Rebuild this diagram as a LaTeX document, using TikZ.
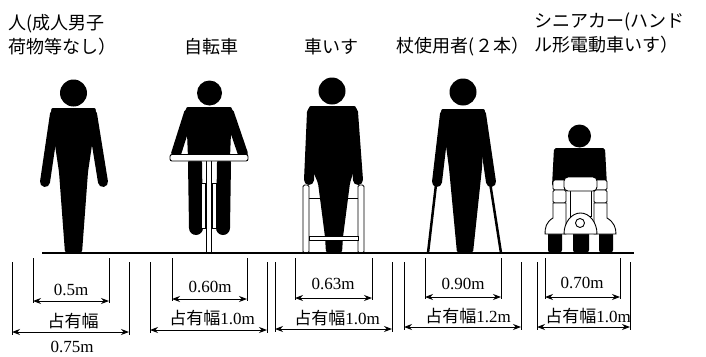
\documentclass[tikz,border=0pt]{standalone}
\usepackage{fontspec}
\setmainfont{Liberation Serif}
\newfontfamily\jpfont{Noto Sans CJK JP}
\usetikzlibrary{arrows.meta}

\begin{document}
\begin{tikzpicture}[
  x=1pt, y=-1pt,
  >={Stealth[length=8pt, width=6pt]},
  ground/.style={line width=2.2pt},
  body/.style={fill=black},
  limb/.style={line width=10pt, line cap=round},
  part/.style={draw=black, fill=white, line width=0.9pt},
  ext/.style={line width=1pt},
  dim/.style={<->, line width=1pt},
  label/.style={font=\jpfont\fontsize{18}{24}\selectfont, inner sep=0pt},
  size/.style={font=\fontsize{17}{20}\selectfont, inner sep=0pt},
  occ/.style={font=\fontsize{17}{20}\selectfont, inner sep=0pt}
]
\useasboundingbox (0,0) rectangle (706,356);

% --- Captions ---
\node[label, anchor=west, align=left] (walk-txt) at (8,35) {人(成人男子\\荷物等なし）};
\node[label] (bike-txt)  at (211,47) {自転車};
\node[label] (chair-txt) at (331,47) {車いす};
\node[label] (cane-txt)  at (463,47) {杖使用者(２本）};
\node[label, anchor=west, align=left] (car-txt) at (534,33) {シニアカー(ハンド\\ル形電動車いす）};

% --- Ground ---
\coordinate (g-l) at (42,253);
\coordinate (g-r) at (634,253);

% --- Pedestrian ---
\fill[body] (73.5,93) circle[radius=13.5];
\fill[body, rounded corners=2]
  (51,108) -- (96,108) -- (92,145) -- (88,172)
  -- (82,253) -- (65,253) -- (59,172) -- (55,145) -- cycle;
\draw[limb] (55,114) -- (45,182);
\draw[limb] (92,114) -- (103,182);

% --- Cyclist ---
\fill[body] (209.5,93) circle[radius=12.5];
\fill[body, rounded corners=2] (186,107) -- (232,107) -- (230,158) -- (188,158) -- cycle;
\draw[limb] (189,113) -- (176,154);
\draw[limb] (229,113) -- (243,154);
\draw[line width=14pt, line cap=round] (195,163) -- (196,228);
\draw[line width=14pt, line cap=round] (224,163) -- (223,228);
\draw[part] (206.5,160) rectangle (211.5,253);   % wheel
\draw[part] (201.5,183) rectangle (205.5,228);   % fork
\draw[part] (212.5,183) rectangle (216.5,228);
\draw[part, rounded corners=2] (170,154.5) rectangle (248,161); % handlebar

% --- Walker user ---
\draw[line width=1pt] (309,198) -- (358,198);
\fill[body] (332,91) circle[radius=13.5];
\fill[body, rounded corners=2]
  (309,106) -- (356,106) -- (357,160) -- (350,183) -- (343,237)
  -- (342,253) -- (326,253) -- (325,237) -- (318,183) -- (308,160) -- cycle;
\draw[limb] (312,112) -- (309,180);
\draw[limb] (353,112) -- (358,180);
\draw[part, rounded corners=1.5] (303,185) rectangle (309,253);
\draw[part, rounded corners=1.5] (358,185) rectangle (364,253);
\draw[part] (309,236) rectangle (358,240);

% --- Crutch user ---
\fill[body] (463,92) circle[radius=13.5];
\fill[body, rounded corners=2]
  (441,109) -- (485,109) -- (482,168) -- (473,253) -- (457,253) -- (449,168) -- cycle;
\draw[limb] (445,114) -- (437,182);
\draw[limb] (481,114) -- (491,182);
\draw[line width=2.5pt] (437,176) -- (428,253);
\draw[line width=2.5pt] (489,176) -- (501,253);

% --- Mobility scooter ---
\fill[body] (579.5,136) circle[radius=11.5];
\fill[body, rounded corners=2] (554,148) -- (605,148) -- (607,186) -- (552,186) -- cycle;
\fill[body, rounded corners=3] (548,230) rectangle (562,253);
\fill[body, rounded corners=3] (573,230) rectangle (589,253);
\fill[body, rounded corners=3] (599,230) rectangle (613,253);
\draw[part, rounded corners=1.5] (553,180) rectangle (566,190);
\draw[part, rounded corners=1.5] (553,190) rectangle (566,203);
\draw[part, rounded corners=1.5] (594,180) rectangle (607,190);
\draw[part, rounded corners=1.5] (594,190) rectangle (607,203);
\draw[part] (566,203) -- (553,203) -- (553,218)
  .. controls (546,222) and (545,228) .. (545,234) -- (566,234) -- cycle;
\draw[part] (594,203) -- (607,203) -- (607,218)
  .. controls (614,222) and (616,228) .. (616,234) -- (594,234) -- cycle;
\draw[part] (570,190) rectangle (591,216);
\draw[part] (564,234) arc[start angle=180, end angle=360, x radius=16.5, y radius=21] -- cycle;
\draw[part] (580,223) circle[radius=4.5];
\draw[part, rounded corners=4] (564,177) rectangle (597,191);

\draw[ground] (g-l) -- (g-r);

% --- Widths: outer = occupied, inner = body ---
\foreach \n/\xa/\xb/\ya/\xc/\xd/\yb in {
    walk/12/129/332/33/109/301,
    bike/150/267/330/172/247/299,
    chair/275/392/329/295/372/298,
    cane/404/521/327/425/501/297,
    car/537/630/327/545/620/297} {
  \coordinate (\n-olt) at (\xa,262);
  \coordinate (\n-ort) at (\xb,262);
  \coordinate (\n-ilt) at (\xc,258);
  \coordinate (\n-irt) at (\xd,258);
  \coordinate (\n-ol) at (\xa,\ya);
  \coordinate (\n-or) at (\xb,\ya);
  \coordinate (\n-il) at (\xc,\yb);
  \coordinate (\n-ir) at (\xd,\yb);
  \draw[ext] (\n-olt) -- ([yshift=-3pt]\n-ol);
  \draw[ext] (\n-ort) -- ([yshift=-3pt]\n-or);
  \draw[ext] (\n-ilt) -- ([yshift=-2pt]\n-il);
  \draw[ext] (\n-irt) -- ([yshift=-2pt]\n-ir);
  \draw[dim] (\n-ol) -- (\n-or);
  \draw[dim] (\n-il) -- (\n-ir);
}

\node[size] (walk-iw)  at (71,290)  {0.5m};
\node[occ]  (walk-ow)  at (73,321)  {\jpfont 占有幅};
\node[size] (walk-ow2) at (72,347)  {0.75m};
\node[size] (bike-iw)  at (210,287) {0.60m};
\node[occ]  (bike-ow)  at (212,318) {{\jpfont 占有幅}1.0m};
\node[size] (chair-iw) at (333,284) {0.63m};
\node[occ]  (chair-ow) at (337,318) {{\jpfont 占有幅}1.0m};
\node[size] (cane-iw)  at (463,284) {0.90m};
\node[occ]  (cane-ow)  at (468,316) {{\jpfont 占有幅}1.2m};
\node[size] (car-iw)   at (582,283) {0.70m};
\node[occ]  (car-ow)   at (588,316) {{\jpfont 占有幅}1.0m};

\end{tikzpicture}
\end{document}
